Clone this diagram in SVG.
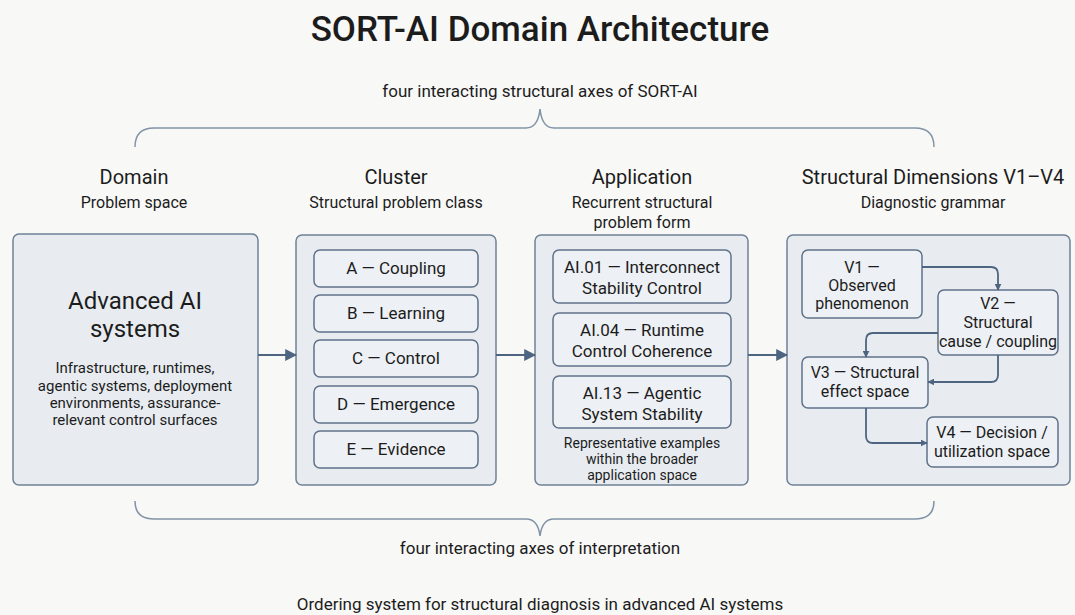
<svg xmlns="http://www.w3.org/2000/svg" width="1075" height="615" viewBox="0 0 1075 615">
<style>
text{font-family:Roboto,"Liberation Sans",sans-serif;fill:#1c1c1c;text-anchor:middle}
.title{font-size:35px;font-weight:500}
.cap{font-size:17px}
.h{font-size:20px}
.sub{font-size:16px}
.outer{fill:#e8ecf1;stroke:#6f8196;stroke-width:1.5}
.inner{fill:#edf0f4;stroke:#5f7289;stroke-width:1.5}
.t17{font-size:17px}
.t16{font-size:16px}
.t15{font-size:15px}
.t14{font-size:14px}
.big{font-size:24px}
.brace{fill:none;stroke:#8193a6;stroke-width:1.5}
.conn{fill:none;stroke:#4d6580;stroke-width:1.8}
</style>
<defs>
<marker id="ah" viewBox="0 0 10 10" refX="9" refY="5" markerWidth="7" markerHeight="7" markerUnits="userSpaceOnUse" orient="auto">
<path d="M0,0 L10,5 L0,10 z" fill="#4d6580"/>
</marker>
<marker id="ahL" viewBox="0 0 10 10" refX="9" refY="5" markerWidth="12" markerHeight="12" markerUnits="userSpaceOnUse" orient="auto">
<path d="M0,0 L10,5 L0,10 z" fill="#4d6580"/>
</marker>
</defs>
<rect width="1075" height="615" fill="#f8f8f7"/>

<g id="title">
<text class="title" x="540" y="41">SORT-AI Domain Architecture</text>
</g>
<g id="top-brace">
<text class="cap" x="540" y="97">four interacting structural axes of SORT-AI</text>
<path class="brace" d="M135,147 Q135,128 154,128 L526,128 Q538,128 540,109 Q542,128 554,128 L915,128 Q934,128 934,147"/>
</g>

<g id="domain">
<text class="h" x="134" y="184">Domain</text>
<text class="sub" x="134" y="208">Problem space</text>
<rect class="outer" x="13" y="234" width="245" height="251" rx="6"/>
<text class="big" x="135" y="309">Advanced AI</text>
<text class="big" x="135" y="337">systems</text>
<text class="t15" x="135" y="373">Infrastructure, runtimes,</text>
<text class="t15" x="135" y="391">agentic systems, deployment</text>
<text class="t15" x="135" y="408">environments, assurance-</text>
<text class="t15" x="135" y="425">relevant control surfaces</text>
</g>

<g id="cluster">
<text class="h" x="396" y="184">Cluster</text>
<text class="sub" x="396" y="208">Structural problem class</text>
<rect class="outer" x="296" y="235" width="200" height="250" rx="6"/>
<rect class="inner" x="314" y="250" width="164" height="37" rx="6"/>
<text class="t17" x="396" y="274">A — Coupling</text>
<rect class="inner" x="314" y="295" width="164" height="37" rx="6"/>
<text class="t17" x="396" y="319">B — Learning</text>
<rect class="inner" x="314" y="340" width="164" height="37" rx="6"/>
<text class="t17" x="396" y="364">C — Control</text>
<rect class="inner" x="314" y="386" width="164" height="37" rx="6"/>
<text class="t17" x="396" y="410">D — Emergence</text>
<rect class="inner" x="314" y="431" width="164" height="37" rx="6"/>
<text class="t17" x="396" y="455">E — Evidence</text>
</g>

<g id="application">
<text class="h" x="642" y="184">Application</text>
<text class="sub" x="642" y="208">Recurrent structural</text>
<text class="sub" x="642" y="228">problem form</text>
<rect class="outer" x="535" y="235" width="213" height="250" rx="6"/>
<rect class="inner" x="553" y="250" width="178" height="53" rx="6"/>
<text class="t17" x="642" y="273">AI.01 — Interconnect</text>
<text class="t17" x="642" y="294">Stability Control</text>
<rect class="inner" x="553" y="313" width="178" height="53" rx="6"/>
<text class="t17" x="642" y="336">AI.04 — Runtime</text>
<text class="t17" x="642" y="357">Control Coherence</text>
<rect class="inner" x="553" y="376" width="178" height="52" rx="6"/>
<text class="t17" x="642" y="399">AI.13 — Agentic</text>
<text class="t17" x="642" y="420">System Stability</text>
<text class="t14" x="642" y="448">Representative examples</text>
<text class="t14" x="642" y="464">within the broader</text>
<text class="t14" x="642" y="480">application space</text>
</g>

<g id="dimensions">
<text class="h" x="933" y="184">Structural Dimensions V1–V4</text>
<text class="sub" x="933" y="208">Diagnostic grammar</text>
<rect class="outer" x="787" y="235" width="283" height="250" rx="6"/>
<g id="v1">
<rect class="inner" x="802" y="250" width="120" height="68" rx="6"/>
<text class="t16" x="862" y="273">V1 —</text>
<text class="t16" x="862" y="291">Observed</text>
<text class="t16" x="862" y="309">phenomenon</text>
</g>
<g id="v2">
<rect class="inner" x="938" y="290" width="120" height="65" rx="6"/>
<text class="t16" x="998" y="309">V2 —</text>
<text class="t16" x="998" y="328">Structural</text>
<text class="t16" x="998" y="347">cause / coupling</text>
</g>
<g id="v3">
<rect class="inner" x="802" y="357" width="126" height="51" rx="6"/>
<text class="t16" x="865" y="378">V3 — Structural</text>
<text class="t16" x="865" y="397">effect space</text>
</g>
<g id="v4">
<rect class="inner" x="927" y="417" width="131" height="50" rx="6"/>
<text class="t16" x="992" y="438">V4 — Decision /</text>
<text class="t16" x="992" y="457">utilization space</text>
</g>
</g>

<g id="connectors">
<line class="conn" x1="258" y1="355" x2="296" y2="355" marker-end="url(#ahL)"/>
<line class="conn" x1="496" y1="355" x2="535" y2="355" marker-end="url(#ahL)"/>
<line class="conn" x1="748" y1="355" x2="787" y2="355" marker-end="url(#ahL)"/>
<path class="conn" d="M922,267 L991,267 Q998,267 998,274 L998,290" marker-end="url(#ah)"/>
<path class="conn" d="M938,333 L873,333 Q866,333 866,340 L866,357" marker-end="url(#ah)"/>
<path class="conn" d="M998,355 L998,375 Q998,382 991,382 L928,382" marker-end="url(#ah)"/>
<path class="conn" d="M866,408 L866,436 Q866,443 873,443 L927,443" marker-end="url(#ah)"/>
</g>

<g id="bottom-brace">
<path class="brace" d="M135,501 Q135,519 154,519 L526,519 Q538,519 540,536 Q542,519 554,519 L915,519 Q934,519 934,501"/>
<text class="cap" x="540" y="554">four interacting axes of interpretation</text>
</g>
<g id="footer">
<text class="cap" x="540" y="610">Ordering system for structural diagnosis in advanced AI systems</text>
</g>
</svg>
